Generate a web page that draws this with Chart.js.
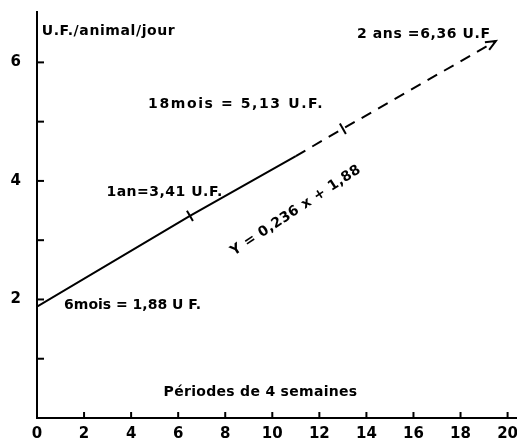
<!DOCTYPE html>
<html>
<head>
<meta charset="utf-8">
<script src="https://cdn.jsdelivr.net/npm/chart.js@4/dist/chart.umd.min.js"></script>
<style>
	html, body { margin: 0; padding: 0; background: #fff; }
	#wrap { width: 517px; height: 444px; }
</style>
</head>
<body>
<div id="wrap"><canvas id="ufChart"></canvas></div>
<script>
// periods of 4 weeks, counted from 6 months of age
var agePeriods = [0, 6.5, 13, 19.5];
var ageUF = [1.88, 3.41, 4.88, 6.36];
var ageLabels = ['6mois = 1,88 U F.', '1an=3,41 U.F.', '18mois = 5,13 U.F.', '2 ans =6,36 U.F'];
// solid part of the line ends here, dashed after
var solidEndX = 11;
var solidEndY = 4.42;
var xTicks = [0, 2, 4, 6, 8, 10, 12, 14, 16, 18, 20];
var yTicks = [1, 2, 3, 4, 5, 6];
var yLabelled = [2, 4, 6];

var solidPts = [
	{ x: agePeriods[0], y: ageUF[0] },
	{ x: agePeriods[1], y: ageUF[1] },
	{ x: solidEndX, y: solidEndY },
];
var dashedPts = [
	{ x: solidEndX, y: solidEndY },
	{ x: agePeriods[2], y: ageUF[2] },
	{ x: agePeriods[3], y: ageUF[3] },
];

var texts = [
	{ t: 'U.F./animal/jour', x: 0.2, y: 6.52, size: 14, ls: 0.6, align: 'left' },
	{ t: ageLabels[3], x: 13.6, y: 6.48, size: 14, ls: 0.6, align: 'left' },
	{ t: ageLabels[2], x: 4.72, y: 5.3, size: 14, ls: 1.6, align: 'left' },
	{ t: ageLabels[1], x: 2.95, y: 3.81, size: 14, ls: 0.5, align: 'left' },
	{ t: ageLabels[0], x: 1.15, y: 1.9, size: 14, ls: 0, align: 'left' },
	{ t: 'Périodes de 4 semaines', x: 9.5, y: 0.43, size: 14, ls: 0.3, align: 'center' },
];

var extras = {
	id: 'extras',
	afterDraw: function (chart) {
		var ctx = chart.ctx;
		var xs = chart.scales.x;
		var ys = chart.scales.y;
		ctx.save();
		ctx.strokeStyle = '#000';
		ctx.lineWidth = 2;
		// inward tick marks
		yTicks.forEach(function (v) {
			var py = ys.getPixelForValue(v);
			ctx.beginPath();
			ctx.moveTo(xs.left, py);
			ctx.lineTo(xs.left + 7, py);
			ctx.stroke();
		});
		xTicks.forEach(function (v) {
			var px = xs.getPixelForValue(v);
			ctx.beginPath();
			ctx.moveTo(px, ys.bottom);
			ctx.lineTo(px, ys.bottom - 6);
			ctx.stroke();
		});
		// open arrow head at the end of the dashed line
		var n = dashedPts.length;
		var ex = xs.getPixelForValue(dashedPts[n - 1].x);
		var ey = ys.getPixelForValue(dashedPts[n - 1].y);
		var bx = xs.getPixelForValue(dashedPts[n - 2].x);
		var by = ys.getPixelForValue(dashedPts[n - 2].y);
		var ang = Math.atan2(ey - by, ex - bx);
		ctx.beginPath();
		ctx.moveTo(ex - 11 * Math.cos(ang - 0.4), ey - 11 * Math.sin(ang - 0.4));
		ctx.lineTo(ex, ey);
		ctx.lineTo(ex - 11 * Math.cos(ang + 0.4), ey - 11 * Math.sin(ang + 0.4));
		ctx.stroke();

		ctx.fillStyle = '#000';
		ctx.textBaseline = 'middle';
		texts.forEach(function (o) {
			ctx.font = 'bold ' + o.size + 'px "DejaVu Sans"';
			ctx.letterSpacing = o.ls + 'px';
			ctx.textAlign = o.align;
			ctx.fillText(o.t, xs.getPixelForValue(o.x), ys.getPixelForValue(o.y));
		});
		// equation along the line
		ctx.font = 'bold 14px "DejaVu Sans"';
		ctx.letterSpacing = '0.4px';
		ctx.translate(xs.getPixelForValue(11.0), ys.getPixelForValue(3.5));
		ctx.rotate(-33.5 * Math.PI / 180);
		ctx.textAlign = 'center';
		ctx.fillText('Y = 0,236 x + 1,88', 0, 0);
		ctx.restore();
	},
};

var ufChart = new Chart(document.getElementById('ufChart'), {
	type: 'scatter',
	data: {
		datasets: [
			{
				data: solidPts,
				showLine: true,
				borderColor: '#000',
				borderWidth: 2,
				pointRadius: 0,
			},
			{
				data: dashedPts,
				showLine: true,
				borderColor: '#000',
				borderWidth: 2,
				borderDash: [11, 8],
				pointRadius: 0,
			},
			{
				// little cross marks at 1 an and 18 mois
				data: [
					{ x: agePeriods[1], y: ageUF[1] },
					{ x: agePeriods[2], y: ageUF[2] },
				],
				pointStyle: 'line',
				rotation: 60,
				pointRadius: 6,
				borderColor: '#000',
				borderWidth: 2,
			},
		],
	},
	options: {
		responsive: true,
		maintainAspectRatio: false,
		animation: false,
		layout: { autoPadding: false, padding: { top: 12, right: 0, left: 0, bottom: 0 } },
		plugins: {
			legend: { display: false },
			tooltip: { enabled: false },
		},
		scales: {
			x: {
				type: 'linear',
				min: 0,
				max: 20.4,
				afterFit: function (s) {
					s.height = 26;
					s.paddingLeft = 0;
					s.paddingRight = 0;
				},
				border: { display: true, color: '#000', width: 2 },
				grid: { display: false, drawTicks: false },
				ticks: {
					stepSize: 2,
					includeBounds: false,
					padding: 7,
					color: '#000',
					font: { family: 'DejaVu Sans', size: 15, weight: 'bold' },
					maxRotation: 0,
					callback: function (v) { return xTicks.indexOf(v) >= 0 ? String(v) : ''; },
				},
			},
			y: {
				type: 'linear',
				min: 0,
				max: 6.85,
				afterFit: function (s) {
					s.width = 37;
					s.paddingTop = 0;
					s.paddingBottom = 0;
				},
				border: { display: true, color: '#000', width: 2 },
				grid: { display: false, drawTicks: false },
				ticks: {
					stepSize: 1,
					includeBounds: false,
					padding: 16,
					color: '#000',
					font: { family: 'DejaVu Sans', size: 15, weight: 'bold' },
					callback: function (v) { return yLabelled.indexOf(v) >= 0 ? String(v) : ''; },
				},
			},
		},
	},
	plugins: [extras],
});
</script>
</body>
</html>
